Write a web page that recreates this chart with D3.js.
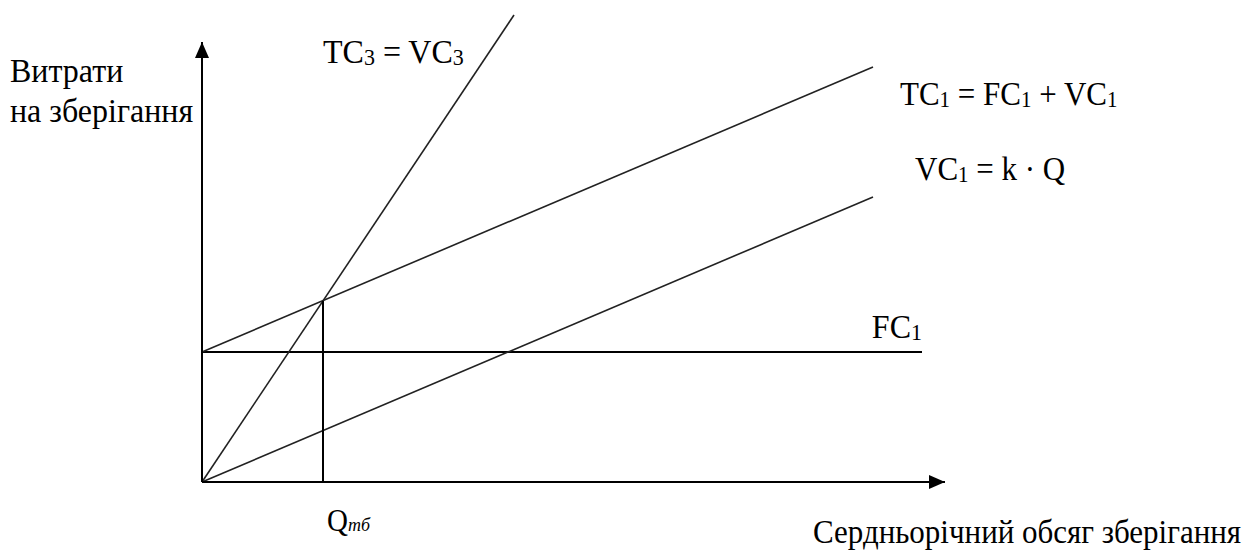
<!DOCTYPE html>
<html>
<head>
<meta charset="utf-8">
<script src="https://cdn.jsdelivr.net/npm/d3@7"></script>
<style>
  body { margin: 0; background: #fff; }
  .axis { stroke: #000; stroke-width: 2; }
  .cost { stroke: #222; stroke-width: 1.6; fill: none; }
</style>
</head>
<body>
<script>
// Chart data (arbitrary cost units)
var fixedCost = 13;          // FC1 level
var breakEvenQ = 12.1;       // Q_tb, where TC3 meets TC1
var breakEvenCost = 18.1;
var axisMax = [74.3, 44];    // arrow tips of the Q and cost axes

// each line: two points [Q, cost]
var lineNames = ["FC1", "TC1", "VC1", "TC3"];
var lineQ = [[0, 72], [0, 67.1], [0, 67.1], [0, 31.2]];
var lineCost = [[13, 13], [13, 41.5], [0, 28.5], [0, 46.7]];

// Size
var width = 1257, height = 553;
var origin = [202, 482];

var x = d3.scaleLinear().domain([0, axisMax[0]]).range([origin[0], origin[0] + 743]);
var y = d3.scaleLinear().domain([0, axisMax[1]]).range([origin[1], origin[1] - 440]);

var svg = d3.select("body").append("svg")
  .attr("width", width)
  .attr("height", height)
  .attr("font-family", "'Liberation Serif', 'Times New Roman', 'DejaVu Serif', serif");

// arrow head
svg.append("defs").append("marker")
  .attr("id", "arrow")
  .attr("viewBox", "0 0 16 14")
  .attr("refX", 16)
  .attr("refY", 7)
  .attr("markerWidth", 16)
  .attr("markerHeight", 14)
  .attr("markerUnits", "userSpaceOnUse")
  .attr("orient", "auto")
  .append("path")
  .attr("d", "M0,0 L16,7 L0,14 Z")
  .attr("fill", "#000");

// cost lines
var lines = lineNames.map(function (n, i) {
  return { name: n, pts: [[lineQ[i][0], lineCost[i][0]], [lineQ[i][1], lineCost[i][1]]] };
});
var lineGen = d3.line()
  .x(function (d) { return x(d[0]); })
  .y(function (d) { return y(d[1]); });

svg.append("g").selectAll("path")
  .data(lines)
  .enter().append("path")
  .attr("class", function (d) { return d.name == "FC1" ? "axis" : "cost"; })
  .attr("d", function (d) { return lineGen(d.pts); });

// break-even drop line
svg.append("line")
  .attr("class", "axis")
  .attr("x1", x(breakEvenQ))
  .attr("x2", x(breakEvenQ))
  .attr("y1", y(0))
  .attr("y2", y(breakEvenCost));

// axes
svg.append("line") // Q axis
  .attr("class", "axis")
  .attr("x1", x(0)).attr("y1", y(0))
  .attr("x2", x(axisMax[0])).attr("y2", y(0))
  .attr("marker-end", "url(#arrow)");
svg.append("line") // cost axis
  .attr("class", "axis")
  .attr("x1", x(0)).attr("y1", y(0))
  .attr("x2", x(0)).attr("y2", y(axisMax[1]))
  .attr("marker-end", "url(#arrow)");

// labels with subscripts: parts of [text, isSub]
// text is a bit taller than Liberation Serif in the picture, so stretch it slightly
function label(px, py, parts, size) {
  var t = svg.append("text")
    .attr("transform", "translate(" + px + "," + py + ") scale(1,1.08)")
    .attr("font-size", size)
    .attr("fill", "#000");
  parts.forEach(function (p, i) {
    var s = t.append("tspan").text(p[0]);
    if (p[1]) s.attr("font-size", Math.round(size * 0.68)).attr("dy", 2);
    else if (i > 0 && parts[i - 1][1]) s.attr("dy", -2); // back to baseline
  });
  return t;
}

label(10, 82, [["Витрати", false]], 32);
label(10, 122, [["на зберігання", false]], 32);
label(323, 63, [["TC", false], ["3", true], [" = VC", false], ["3", true]], 32);
label(900, 105, [["TC", false], ["1", true], [" = FC", false], ["1", true], [" + VC", false], ["1", true]], 31);
label(915, 180, [["VC", false], ["1", true], [" = k · Q", false]], 31);
label(x(72), y(fixedCost) - 14, [["FC", false], ["1", true]], 32).attr("text-anchor", "end");

var qLab = label(327, 531, [["Q", false]], 29);
qLab.append("tspan").text("тб")
  .attr("font-size", 18)
  .attr("font-style", "italic");

label(813, 543, [["Сердньорічний обсяг зберігання", false]], 31);
</script>
</body>
</html>
